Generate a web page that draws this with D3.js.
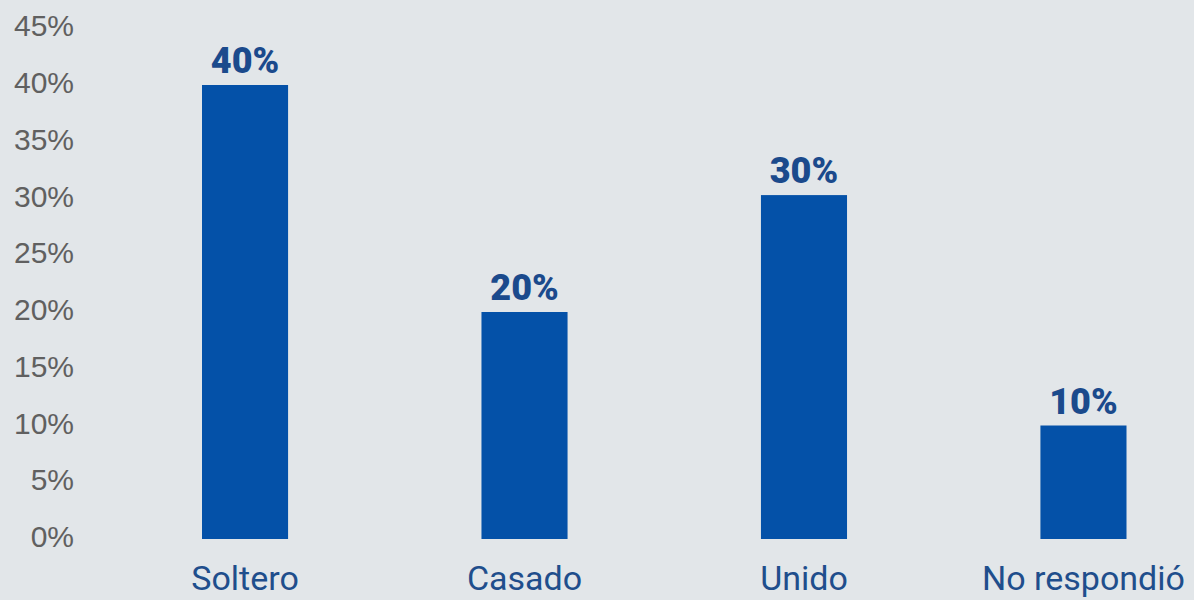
<!DOCTYPE html>
<html><head><meta charset="utf-8">
<script src="https://cdn.jsdelivr.net/npm/d3@7"></script>
<style>
html,body{margin:0;padding:0;background:#e2e6e9;}
svg{display:block;}
</style></head><body>
<svg id="chart" width="1194" height="600"></svg>
<script>
const categories = ["Soltero", "Casado", "Unido", "No respondió"];
const values = [40, 20, 30.3, 10];
const yTicks = [0, 5, 10, 15, 20, 25, 30, 35, 40, 45];

const svg = d3.select("#chart");
svg.append("rect").attr("width",1194).attr("height",600).attr("fill","#e2e6e9");

const x = d3.scaleBand().domain(categories).range([202,1126.5]).paddingInner(0.692).paddingOuter(0);
const y = d3.scaleLinear().domain([0,45]).range([539,28.25]);

const yAxis = svg.append("g").attr("transform","translate(74,0)")
  .call(d3.axisLeft(y).tickValues(yTicks).tickFormat(d=>d+"%").tickSize(0).tickPadding(0));
yAxis.select(".domain").remove();
yAxis.selectAll("text").attr("font-family","'Liberation Sans', Arial, sans-serif")
  .attr("font-size",30).attr("fill","#606060").attr("dy","0.25em");

svg.selectAll("rect.bar").data(values).join("rect").attr("class","bar")
  .attr("x",(d,i)=>x(categories[i])).attr("width",x.bandwidth())
  .attr("y",d=>y(d)).attr("height",d=>y(0)-y(d)).attr("fill","#0451a8");

svg.selectAll("text.val").data(values).join("text").attr("class","val")
  .attr("x",(d,i)=>x(categories[i])+x.bandwidth()/2).attr("y",d=>y(d)-12)
  .attr("text-anchor","middle").attr("font-family","Roboto, sans-serif").attr("font-weight",900)
  .attr("font-size",36).attr("fill","#1b4a8c").text(d=>Math.round(d)+"%");

const xAxis = svg.append("g").attr("transform","translate(0,539)")
  .call(d3.axisBottom(x).tickSize(0).tickPadding(0));
xAxis.select(".domain").remove();
xAxis.selectAll("text").attr("font-family","Roboto, sans-serif").attr("font-size",34)
  .attr("fill","#1f4e8c").attr("dy",null).attr("y",51);
</script>
</body></html>
